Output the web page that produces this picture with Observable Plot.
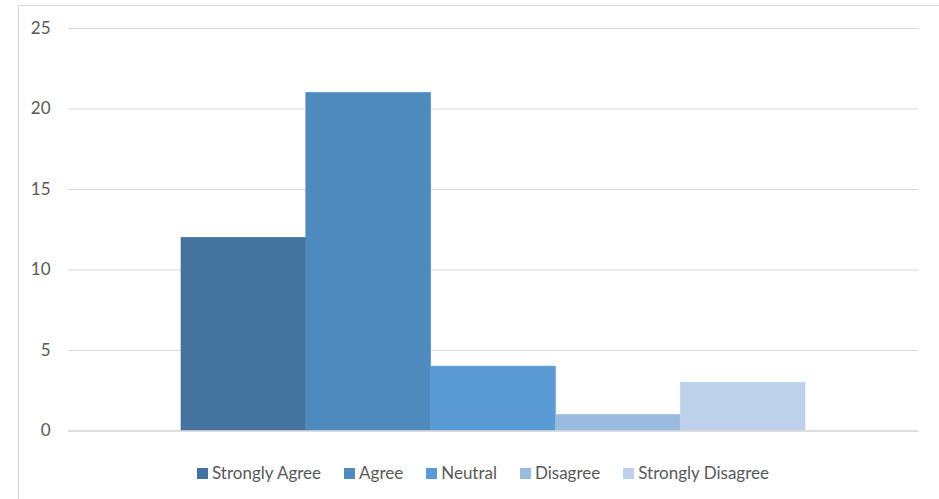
<!DOCTYPE html>
<html>
<head>
<meta charset="utf-8">
<script src="https://cdn.jsdelivr.net/npm/d3@7"></script>
<script src="https://cdn.jsdelivr.net/npm/@observablehq/plot@0.6"></script>
<style>
  html, body { margin: 0; padding: 0; background: #fff; }
  #chart { position: relative; width: 939px; height: 499px; overflow: hidden; font-family: Lato, "Open Sans", sans-serif; }
  #box { position: absolute; left: 18px; top: 5px; width: 940px; height: 520px;
         border-left: 1.5px solid #d9d9d9; border-top: 1.5px solid #d9d9d9; box-sizing: border-box; }
  #plot { position: absolute; left: 0; top: 0; }
  #legend { position: absolute; top: 462px; left: 0; width: 966px; display: flex; justify-content: center;
            gap: 23px; font-size: 17px; color: #595959; line-height: 22px; }
  .item { display: flex; align-items: center; gap: 4px; }
  .sw { width: 11px; height: 11px; display: inline-block; }
</style>
</head>
<body>
<div id="chart">
  <div id="box"></div>
  <div id="plot"></div>
  <div id="legend"></div>
</div>
<script>
// Survey responses
const categories = ["Strongly Agree", "Agree", "Neutral", "Disagree", "Strongly Disagree"];
const counts = [12, 21, 4, 1, 3];
const colors = ["#43739e", "#4f8abe", "#5b9bd5", "#9abbe0", "#bdd1ea"];
const yTicks = [0, 5, 10, 15, 20, 25];

const data = categories.map((c, i) => ({category: c, count: counts[i]}));

const chart = Plot.plot({
  width: 939,
  height: 450,
  marginLeft: 68,
  marginRight: 21,
  marginTop: 28,
  marginBottom: 19.5,
  style: {fontFamily: "Lato, 'Open Sans', sans-serif", background: "transparent"},
  x: {domain: categories, padding: 0, round: false, insetLeft: 113, insetRight: 113, axis: null},
  y: {domain: [0, 25], ticks: yTicks},
  color: {domain: categories, range: colors},
  marks: [
    Plot.ruleY(yTicks, {stroke: "#d9d9d9", strokeWidth: 1.2}),
    // a thin same-colour stroke closes the anti-aliased seams between adjacent bars
    Plot.barY(data, {x: "category", y: "count", fill: "category", stroke: "category", strokeWidth: 0.6}),
    Plot.ruleY([0], {stroke: "#d9d9d9", strokeWidth: 1.5}),
    Plot.axisY({ticks: yTicks, tickSize: 0, tickPadding: 18, fontSize: 17, fill: "#595959", label: null})
  ]
});
document.getElementById("plot").appendChild(chart);

const legend = document.getElementById("legend");
categories.forEach((c, i) => {
  const item = document.createElement("div");
  item.className = "item";
  const sw = document.createElement("span");
  sw.className = "sw";
  sw.style.background = colors[i];
  const label = document.createElement("span");
  label.textContent = c;
  item.appendChild(sw);
  item.appendChild(label);
  legend.appendChild(item);
});
</script>
</body>
</html>
